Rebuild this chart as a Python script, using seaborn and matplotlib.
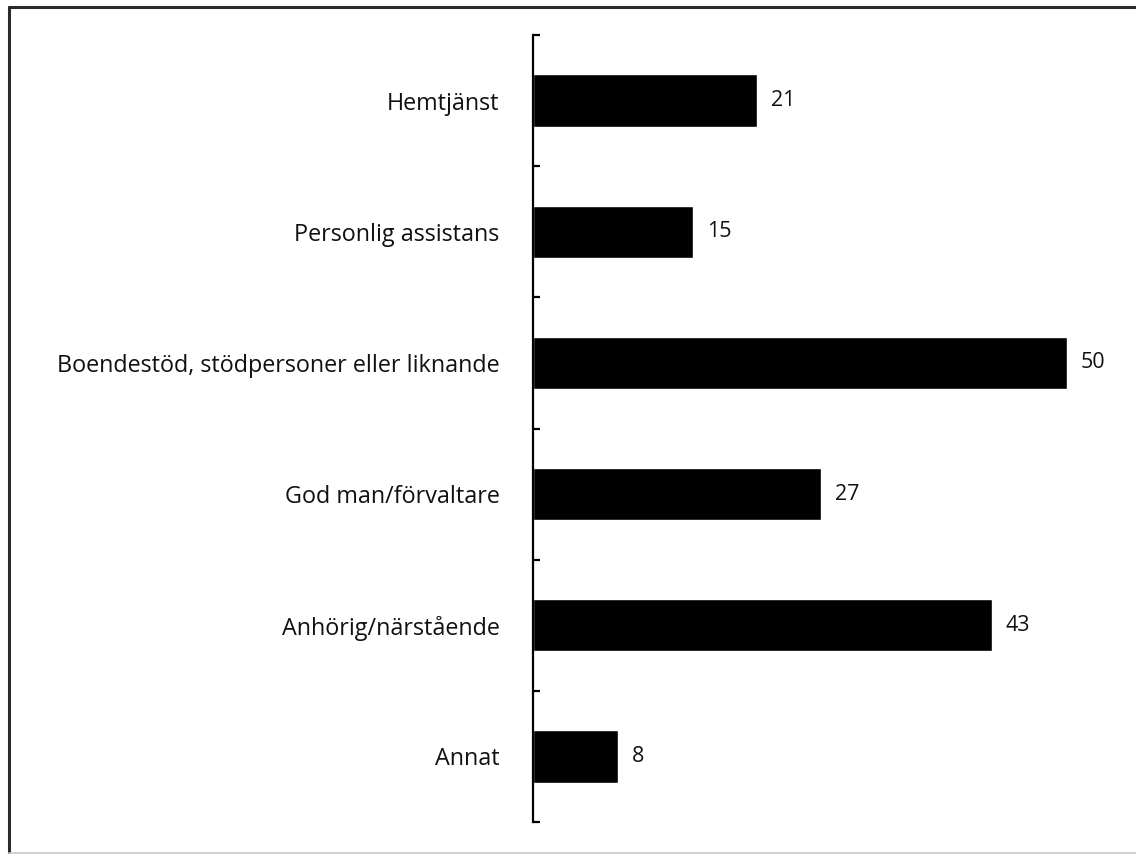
import matplotlib
matplotlib.use('Agg')
import matplotlib.pyplot as plt
import matplotlib.lines as mlines
import seaborn as sns
import pandas as pd

# Data
categories = ['Hemtjänst', 'Personlig assistans', 'Boendestöd, stödpersoner eller liknande',
              'God man/förvaltare', 'Anhörig/närstående', 'Annat']
values = [21, 15, 50, 27, 43, 8]

df = pd.DataFrame({'kategori': categories, 'antal': values})

sns.set_style('white')
plt.rcParams['font.family'] = ['Open Sans', 'DejaVu Sans']

fig = plt.figure(figsize=(11.36, 8.55), dpi=100)
ax = fig.add_axes([533 / 1136, 1 - 822 / 855, 587 / 1136, 787 / 855])

sns.barplot(data=df, x='antal', y='kategori', color='black', width=0.4,
            saturation=1, ax=ax, orient='h')
labels = ax.bar_label(ax.containers[0], padding=10, fontsize=15.5, color='#111111')
for t in labels:
    t.set_verticalalignment('center')

ax.set_xlim(0, 55)
ax.set_ylim(len(categories) - 0.5, -0.5)
ax.set_xlabel('')
ax.set_ylabel('')
ax.set_xticks([])

# spines
for s in ['top', 'right', 'bottom']:
    ax.spines[s].set_visible(False)
ax.spines['left'].set_color('black')
ax.spines['left'].set_linewidth(1.6)

# category labels without tick marks, small inward ticks at the boundaries
ax.set_yticks([i + 0.5 for i in range(-1, len(categories))], minor=True)
ax.tick_params(axis='y', which='major', left=True, length=0, pad=24, labelsize=16.8,
               labelcolor='#111111')
ax.tick_params(axis='y', which='minor', left=True, direction='in', length=5, width=1.6,
               color='black')

# frame round the picture: dark left/top, light bottom
fig.add_artist(mlines.Line2D([8.5 / 1136, 8.5 / 1136], [0.003, 1 - 7.5 / 855],
                             transform=fig.transFigure, color='#2a2a2a', linewidth=2.2))
fig.add_artist(mlines.Line2D([8.5 / 1136, 1], [1 - 7.5 / 855, 1 - 7.5 / 855],
                             transform=fig.transFigure, color='#2a2a2a', linewidth=2.2))
fig.add_artist(mlines.Line2D([8.5 / 1136, 1], [2 / 855, 2 / 855],
                             transform=fig.transFigure, color='#c8c8c8', linewidth=1.2))

fig.savefig('out.png', dpi=100)
